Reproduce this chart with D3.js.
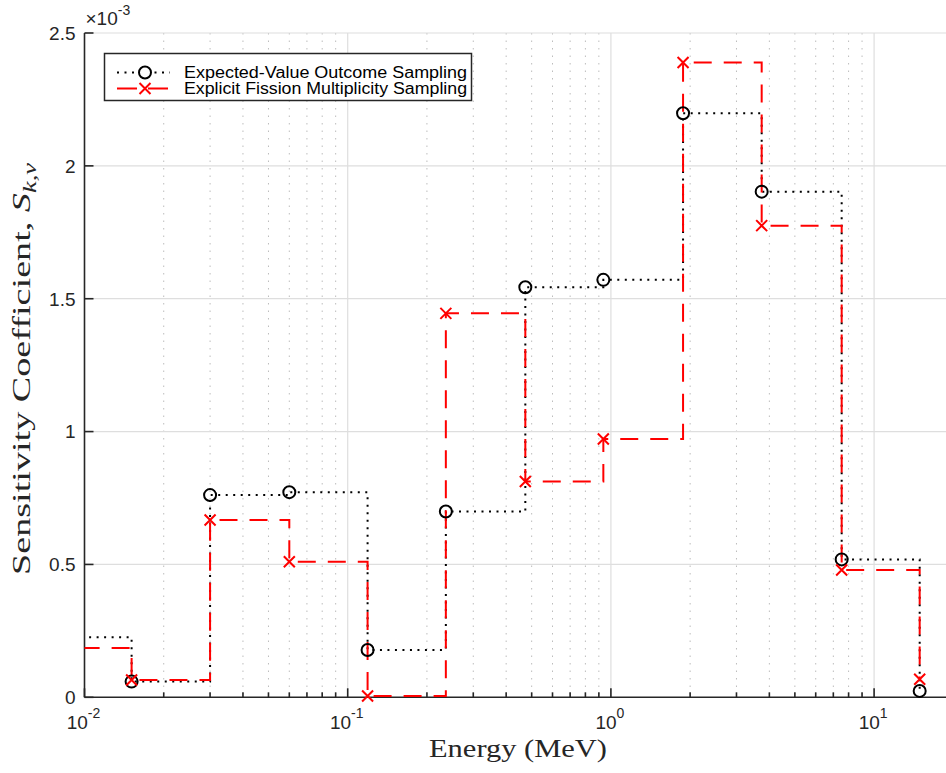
<!DOCTYPE html>
<html>
<head>
<meta charset="utf-8">
<script src="https://cdn.jsdelivr.net/npm/d3@7"></script>
<style>
  html, body { margin: 0; padding: 0; background: #fff; }
  svg { display: block; }
</style>
</head>
<body>
<svg id="chart" width="946" height="773"></svg>
<script>
// Group energies (MeV) at which each stair step begins
const energies = [0.0075, 0.0151, 0.030, 0.060, 0.119, 0.236, 0.473, 0.936, 1.88, 3.74, 7.53, 14.9];
// Sensitivity coefficients (x 1e-3)
const expectedValue = [0.226, 0.059, 0.761, 0.772, 0.178, 0.699, 1.543, 1.571, 2.198, 1.903, 0.519, 0.024];
const explicitFission = [0.186, 0.065, 0.667, 0.510, 0.005, 1.445, 0.812, 0.972, 2.389, 1.775, 0.479, 0.068];
const seriesNames = ["Expected-Value Outcome Sampling", "Explicit Fission Multiplicity Sampling"];
const yTicks = [0, 0.5, 1, 1.5, 2, 2.5];
const yTickLabels = ["0", "0.5", "1", "1.5", "2", "2.5"];
const xMajor = [0.01, 0.1, 1, 10];
const xMajorExp = ["-2", "-1", "0", "1"];

(function draw() {
  const svg = d3.select("#chart");
  const W = 946, H = 773;
  const pLeft = 84.5, pTop = 33, pBottom = 697.3;
  const decade = 263.2;
  const xDomain = [0.01, 20];
  const pRight = pLeft + decade * Math.log10(xDomain[1] / xDomain[0]);

  const x = d3.scaleLog().domain(xDomain).range([pLeft, pRight]);
  const y = d3.scaleLinear().domain([0, 2.5]).range([pBottom, pTop]);

  const axisColor = "#262626";
  const tickFont = "'Liberation Sans', Arial, Helvetica, sans-serif";
  const serif = "'Liberation Serif', 'Times New Roman', serif";

  svg.append("rect").attr("width", W).attr("height", H).attr("fill", "#fff");

  // minor log ticks
  const minor = [];
  for (let d = -2; d <= 1; d++) {
    for (let m = 2; m <= 9; m++) {
      const v = m * Math.pow(10, d);
      if (v <= xDomain[1]) minor.push(v);
    }
  }

  const grid = svg.append("g");
  grid.selectAll("line.minor").data(minor).enter().append("line")
    .attr("x1", d => x(d)).attr("x2", d => x(d))
    .attr("y1", pTop).attr("y2", pBottom)
    .attr("stroke", "#bdbdbd").attr("stroke-width", 1)
    .attr("stroke-dasharray", "1.5,6");
  grid.selectAll("line.xmaj").data(xMajor.slice(1)).enter().append("line")
    .attr("x1", d => x(d)).attr("x2", d => x(d))
    .attr("y1", pTop).attr("y2", pBottom)
    .attr("stroke", "#dedede").attr("stroke-width", 1.2);
  grid.selectAll("line.ymaj").data(yTicks.slice(1)).enter().append("line")
    .attr("x1", pLeft).attr("x2", W)
    .attr("y1", d => y(d)).attr("y2", d => y(d))
    .attr("stroke", "#dedede").attr("stroke-width", 1.2);

  // clip region for data
  svg.append("clipPath").attr("id", "plotClip")
    .append("rect").attr("x", pLeft).attr("y", pTop - 10)
    .attr("width", pRight - pLeft).attr("height", pBottom - pTop + 20);

  const line = d3.line().x(d => x(d[0])).y(d => y(d[1])).curve(d3.curveStepAfter);

  const ptsA = energies.map((e, i) => [e, expectedValue[i]]);
  const ptsB = energies.map((e, i) => [e, explicitFission[i]]);

  // axes (drawn under the data lines)
  const axes = svg.append("g");
  axes.append("line").attr("x1", pLeft).attr("x2", W).attr("y1", pBottom).attr("y2", pBottom)
    .attr("stroke", axisColor).attr("stroke-width", 1.6);
  axes.append("line").attr("x1", pLeft).attr("x2", pLeft).attr("y1", pTop).attr("y2", pBottom)
    .attr("stroke", axisColor).attr("stroke-width", 1.6);
  axes.selectAll("line.xt").data(xMajor).enter().append("line")
    .attr("x1", d => x(d)).attr("x2", d => x(d))
    .attr("y1", pBottom).attr("y2", pBottom - 9)
    .attr("stroke", axisColor).attr("stroke-width", 1.6);
  axes.selectAll("line.xm").data(minor).enter().append("line")
    .attr("x1", d => x(d)).attr("x2", d => x(d))
    .attr("y1", pBottom).attr("y2", pBottom - 5)
    .attr("stroke", axisColor).attr("stroke-width", 1.6);
  axes.selectAll("line.yt").data(yTicks).enter().append("line")
    .attr("x1", pLeft).attr("x2", pLeft + 9)
    .attr("y1", d => y(d)).attr("y2", d => y(d))
    .attr("stroke", axisColor).attr("stroke-width", 1.6);

  const plot = svg.append("g").attr("clip-path", "url(#plotClip)");
  plot.append("path").datum(ptsA).attr("d", line)
    .attr("fill", "none").attr("stroke", "#000").attr("stroke-width", 2)
    .attr("stroke-dasharray", "2,5.5");
  plot.append("path").datum(ptsB).attr("d", line)
    .attr("fill", "none").attr("stroke", "#ff0000").attr("stroke-width", 2)
    .attr("stroke-dasharray", "18,12");

  plot.selectAll("circle.m").data(ptsA).enter().append("circle")
    .attr("cx", d => x(d[0])).attr("cy", d => y(d[1])).attr("r", 6)
    .attr("fill", "none").attr("stroke", "#000").attr("stroke-width", 2);

  function crossPath(cx, cy, s) {
    return `M${cx - s},${cy - s}L${cx + s},${cy + s}M${cx - s},${cy + s}L${cx + s},${cy - s}`;
  }
  plot.selectAll("path.x").data(ptsB).enter().append("path")
    .attr("d", d => crossPath(x(d[0]), y(d[1]), 5.5))
    .attr("fill", "none").attr("stroke", "#ff0000").attr("stroke-width", 2);

  // tick labels
  const yl = svg.append("g").attr("font-family", tickFont).attr("font-size", 19).attr("fill", axisColor);
  yl.selectAll("text").data(yTicks).enter().append("text")
    .attr("x", pLeft - 9).attr("y", d => y(d)).attr("dy", "0.36em")
    .attr("text-anchor", "end").text((d, i) => yTickLabels[i]);

  const xl = svg.append("g").attr("font-family", tickFont).attr("fill", axisColor);
  xMajor.forEach((v, i) => {
    const t = xl.append("text").attr("x", x(v) - 1).attr("y", 729)
      .attr("text-anchor", "middle").attr("font-size", 19);
    t.append("tspan").text("10");
    t.append("tspan").attr("dy", -11).attr("font-size", 14).text(xMajorExp[i]);
  });

  // exponent multiplier
  const mult = svg.append("text").attr("x", pLeft + 1).attr("y", 25)
    .attr("font-family", tickFont).attr("font-size", 19).attr("fill", axisColor);
  mult.append("tspan").text("\u00d710");
  mult.append("tspan").attr("dy", -10).attr("font-size", 14).text("-3");

  // axis titles
  svg.append("text").attr("x", 518).attr("y", 757)
    .attr("text-anchor", "middle")
    .attr("font-family", serif).attr("font-size", 26).attr("fill", axisColor)
    .attr("textLength", 178).attr("lengthAdjust", "spacingAndGlyphs")
    .text("Energy (MeV)");

  const yg = svg.append("g").attr("transform", "translate(30,575) rotate(-90)");
  const yt = yg.append("text").attr("x", 0).attr("y", 0)
    .attr("font-family", serif).attr("font-size", 26).attr("fill", axisColor);
  yt.append("tspan").text("Sensitivity Coefficient, ");
  yt.append("tspan").attr("font-style", "italic").text("S");
  yt.append("tspan").attr("font-style", "italic").attr("font-size", 18).attr("dy", 6).text("k,\u03bd");
  yt.attr("textLength", 412).attr("lengthAdjust", "spacingAndGlyphs");

  // legend
  const lg = svg.append("g");
  lg.append("rect").attr("x", 104.5).attr("y", 53.5).attr("width", 367).attr("height", 47)
    .attr("fill", "#fff").attr("stroke", axisColor).attr("stroke-width", 1.5);
  const rows = [72.5, 88.5];
  lg.append("line").attr("x1", 117).attr("x2", 170).attr("y1", rows[0]).attr("y2", rows[0])
    .attr("stroke", "#000").attr("stroke-width", 2).attr("stroke-dasharray", "2,5.5");
  lg.append("circle").attr("cx", 145).attr("cy", rows[0]).attr("r", 6)
    .attr("fill", "#fff").attr("stroke", "#000").attr("stroke-width", 2);
  lg.append("line").attr("x1", 117).attr("x2", 168).attr("y1", rows[1]).attr("y2", rows[1])
    .attr("stroke", "#ff0000").attr("stroke-width", 2).attr("stroke-dasharray", "20,11");
  lg.append("path").attr("d", crossPath(145, rows[1], 5.5))
    .attr("fill", "none").attr("stroke", "#ff0000").attr("stroke-width", 2);
  const legendWidths = [283, 283];
  lg.selectAll("text").data(seriesNames).enter().append("text")
    .attr("x", 184).attr("y", (d, i) => rows[i]).attr("dy", "0.36em")
    .attr("font-family", tickFont).attr("font-size", 16).attr("fill", "#000")
    .attr("textLength", (d, i) => legendWidths[i]).attr("lengthAdjust", "spacingAndGlyphs")
    .text(d => d);
})();
</script>
</body>
</html>
